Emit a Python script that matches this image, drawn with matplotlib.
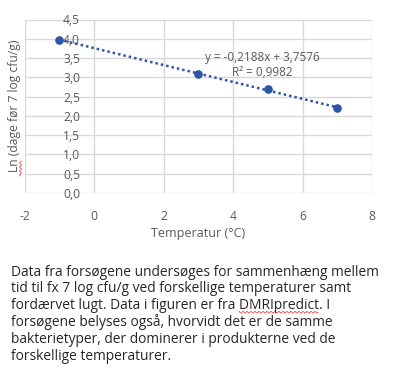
import matplotlib
matplotlib.use("Agg")
import matplotlib.pyplot as plt
import numpy as np

# data
temps = [-1, 3, 5, 7]
ln_days = [3.98, 3.08, 2.69, 2.21]
eq_text = "y = -0,2188x + 3,7576"
r2_text = "R² = 0,9982"
x_ticks = [-2, 0, 2, 4, 6, 8]
y_ticks = [0.0, 0.5, 1.0, 1.5, 2.0, 2.5, 3.0, 3.5, 4.0, 4.5]
x_label = "Temperatur (°C)"
y_label = "Ln (dage før 7 log cfu/g)"
body_lines = [
    "Data fra forsøgene undersøges for sammenhæng mellem",
    "tid til fx 7 log cfu/g ved forskellige temperaturer samt",
    "fordærvet lugt. Data i figuren er fra DMRIpredict. I",
    "forsøgene belyses også, hvorvidt det er de samme",
    "bakterietyper, der dominerer i produkterne ved de",
    "forskellige temperaturer.",
]

plt.rcParams['font.family'] = ['Open Sans', 'DejaVu Sans']
blue = "#2E56A6"
grey_txt = "#595959"
grid_c = "#D9D9D9"
body_fs = 9.95

W, H = 409, 380
fig = plt.figure(figsize=(W / 100, H / 100), dpi=100)
ax = fig.add_axes([24.5 / W, 1 - 193 / H, (372 - 24.5) / W, (193 - 19.5) / H])

ax.set_xlim(-2, 8)
ax.set_ylim(0, 4.5)
ax.set_xticks(x_ticks)
ax.set_yticks(y_ticks)
ax.set_xticklabels([str(t) for t in x_ticks])
ax.set_yticklabels([("%.1f" % t).replace(".", ",") for t in y_ticks])
ax.grid(True, color=grid_c, linewidth=1)
ax.set_axisbelow(True)
for s in ax.spines.values():
    s.set_visible(False)
ax.spines['left'].set_position(('data', 0))
ax.tick_params(axis='both', length=0, labelsize=8.7, colors=grey_txt)
ax.tick_params(axis='y', pad=10)
ax.tick_params(axis='x', pad=12)

# trendline from linear fit
k, m = np.polyfit(temps, ln_days, 1)
xs = np.array([min(temps), max(temps)])
ax.plot(xs, k * xs + m, color=blue, linewidth=1.8, linestyle=(0, (1, 1.2)), zorder=3)
ax.plot(temps, ln_days, 'o', color=blue, markersize=5.2, zorder=4)

fig.text(262 / W, 1 - 58 / H, eq_text, ha='center', va='center', fontsize=8.5, color=grey_txt)
fig.text(262 / W, 1 - 73 / H, r2_text, ha='center', va='center', fontsize=8.5, color=grey_txt)

fig.text(198 / W, 1 - 233 / H, x_label, ha='center', va='center', fontsize=9, color=grey_txt)
fig.text(15 / W, 1 - 106 / H, y_label, ha='center', va='center', rotation=90,
         fontsize=8.7, color=grey_txt)

# text below the chart
for i, line in enumerate(body_lines):
    fig.text(11 / W, 1 - (275.7 + 16.8 * i) / H, line, ha='left', va='baseline',
             fontsize=body_fs, color="#262626")

# red spellcheck squiggles
fig.canvas.draw()
r = fig.canvas.get_renderer()
pre = fig.text(11 / W, 0, "fordærvet lugt. Data i figuren er fra ", fontsize=body_fs)
word = fig.text(11 / W, 0, "DMRIpredict.", fontsize=body_fs)
x0 = 11 + pre.get_window_extent(r).width
x1 = x0 + word.get_window_extent(r).width - 4
pre.remove()
word.remove()
zig = np.array([1, 0, -1, 0])
wx = np.arange(x0, x1, 1.0)
wy = 1 - (275.7 + 16.8 * 2 + 3) / H + 1.0 / H * zig[np.arange(len(wx)) % 4]
fig.add_artist(plt.Line2D(wx / W, wy, color="#E03030", linewidth=0.5, transform=fig.transFigure))
vy = np.arange(161, 177, 1.0)
vx = 20.5 + 1.0 * zig[np.arange(len(vy)) % 4]
fig.add_artist(plt.Line2D(vx / W, 1 - vy / H, color="#E03030", linewidth=0.5, transform=fig.transFigure))

fig.savefig("out.png", dpi=100)
